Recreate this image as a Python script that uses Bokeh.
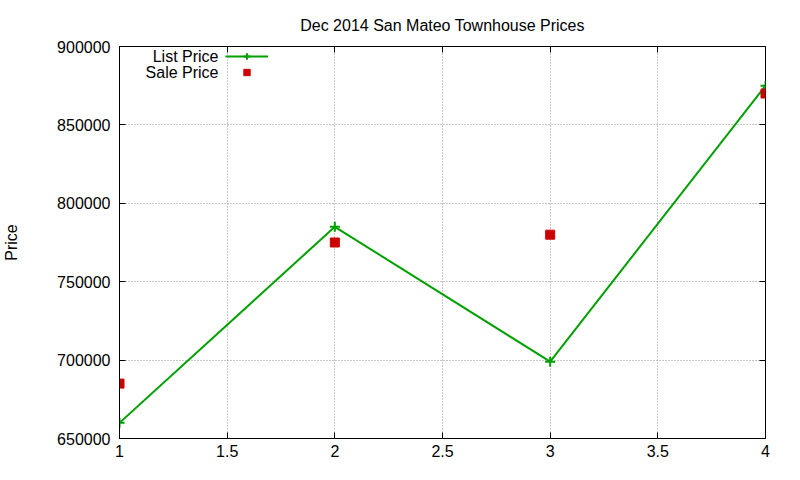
from bokeh.plotting import figure
from bokeh.models import FixedTicker, LinearAxis, Legend, LegendItem, NumeralTickFormatter, Label
from bokeh.embed import file_html
from bokeh.resources import INLINE

# data
months = [1, 2, 3, 4]
list_price = [660000, 785000, 699000, 875000]
sale_price = [685000, 775000, 780000, 870000]

x_ticks = [1, 1.5, 2, 2.5, 3, 3.5, 4]
x_tick_labels = ["1", "1.5", "2", "2.5", "3", "3.5", "4"]
y_ticks = [650000, 700000, 750000, 800000, 850000, 900000]
series_names = ["List Price", "Sale Price"]

FONT = "Liberation Sans"
FS = "16px"
FRAME_H = 392

p = figure(
    frame_width=646, frame_height=FRAME_H,
    x_range=(1, 4), y_range=(650000, 900000),
    output_backend="svg", toolbar_location=None,
    min_border_left=119, min_border_top=46, min_border_right=19, min_border_bottom=26,
    title="Dec 2014 San Mateo Townhouse Prices",
)
p.title.align = "center"
p.title.text_font = FONT
p.title.text_font_size = FS
p.title.text_font_style = "normal"
p.title.text_color = "black"
p.title.standoff = 25

p.outline_line_color = "black"
p.outline_line_width = 1
p.outline_line_alpha = 1

for ax in p.xaxis + p.yaxis:
    ax.major_tick_in = 6
    ax.major_tick_out = 0
    ax.minor_tick_line_color = None
    ax.axis_line_color = "black"
    ax.major_label_text_font = FONT
    ax.major_label_text_font_size = FS
    ax.major_label_text_color = "black"

p.xaxis.major_label_standoff = 6
p.yaxis.major_label_standoff = 9
p.xaxis.ticker = FixedTicker(ticks=x_ticks)
p.xaxis.major_label_overrides = dict(zip(x_ticks, x_tick_labels))
p.yaxis.ticker = FixedTicker(ticks=y_ticks)
p.yaxis.formatter = NumeralTickFormatter(format="0")
p.yaxis.axis_label = "Price"
p.yaxis.axis_label_text_font = FONT
p.yaxis.axis_label_text_font_size = FS
p.yaxis.axis_label_text_font_style = "normal"
p.yaxis.axis_label_text_color = "black"
p.yaxis.axis_label_standoff = 34

# mirrored ticks on top and right, as gnuplot draws them
for side, ticks in (("above", x_ticks), ("right", y_ticks)):
    ax = LinearAxis(ticker=FixedTicker(ticks=ticks))
    ax.major_tick_in = 6
    ax.major_tick_out = 0
    ax.minor_tick_line_color = None
    ax.major_label_overrides = {t: "" for t in ticks}
    ax.major_label_standoff = 0
    ax.axis_line_color = None
    p.add_layout(ax, side)

p.xgrid.ticker = FixedTicker(ticks=x_ticks)
p.ygrid.ticker = FixedTicker(ticks=y_ticks)
p.grid.grid_line_color = "#909090"
p.grid.grid_line_dash = "1 2"
p.grid.grid_line_width = 1

green = "#00a000"
red = "#cc0000"

ln = p.line(months, list_price, line_color=green, line_width=2)
cr = p.scatter(months, list_price, marker="cross", size=10, line_color=green, line_width=2)
sq = p.scatter(months, sale_price, marker="square", size=9, fill_color=red, line_color=red)

# gnuplot-style key: text right-aligned, sample to its right
legend = Legend(
    items=[LegendItem(label=" ", renderers=[ln, cr]),
           LegendItem(label=" ", renderers=[sq])],
    location=(106, FRAME_H - 2 - 32),
    background_fill_alpha=0, border_line_color=None,
    label_text_font_size="1px", label_width=0, label_standoff=0, label_height=16,
    glyph_width=43, glyph_height=16, spacing=0, padding=0, margin=0,
)
p.add_layout(legend)

for i, name in enumerate(series_names):
    p.add_layout(Label(
        x=99, y=FRAME_H - 2 - 8 - 16 * i, x_units="screen", y_units="screen",
        text=name, text_align="right", text_baseline="middle",
        text_font=FONT, text_font_size=FS, text_color="black",
    ))

open("out.html", "w").write(file_html(p, INLINE))
